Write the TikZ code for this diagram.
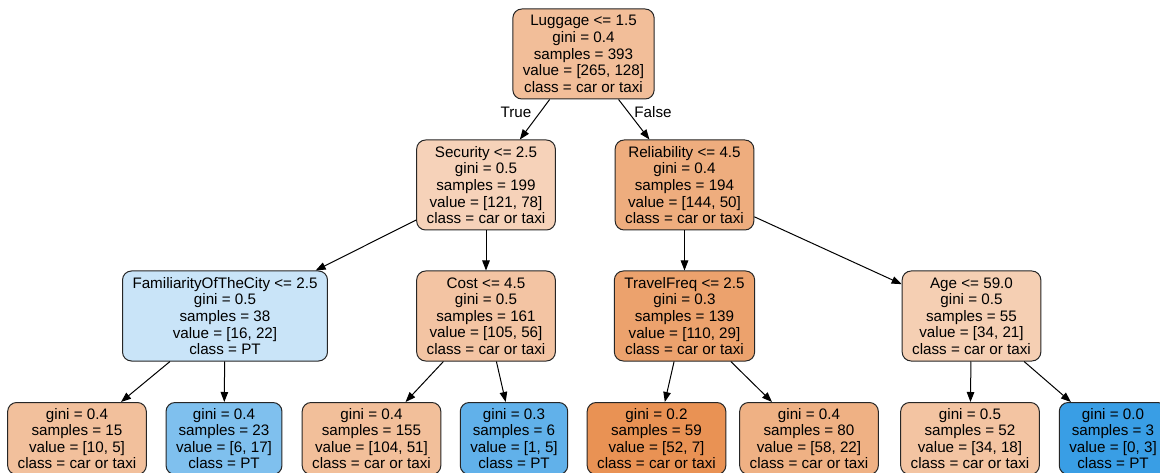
\documentclass[tikz,border=0pt]{standalone}
\usepackage{fontspec}
\setmainfont{Liberation Sans}
\usetikzlibrary{arrows.meta}
\definecolor{cRoot}{RGB}{242,190,153}
\definecolor{cSec}{RGB}{246,210,185}
\definecolor{cRel}{RGB}{238,173,126}
\definecolor{cFam}{RGB}{201,228,248}
\definecolor{cCost}{RGB}{243,196,163}
\definecolor{cTf}{RGB}{236,162,109}
\definecolor{cAge}{RGB}{245,207,179}
\definecolor{cLa}{RGB}{242,192,156}
\definecolor{cLb}{RGB}{127,192,238}
\definecolor{cLc}{RGB}{242,191,154}
\definecolor{cLd}{RGB}{97,177,234}
\definecolor{cLe}{RGB}{233,146,84}
\definecolor{cLf}{RGB}{239,177,132}
\definecolor{cLg}{RGB}{243,196,162}
\definecolor{cLh}{RGB}{57,158,229}
\begin{document}
\begin{tikzpicture}[x=1pt,y=-1pt,
  tnode/.style={draw=black!85, line width=1pt, rounded corners=9pt, align=center,
    inner xsep=10pt, inner ysep=0pt, font=\fontsize{15.2pt}{16.6pt}\selectfont},
  innernode/.style={tnode, minimum height=90pt},
  leafnode/.style={tnode, minimum height=72pt},
  edgearrow/.style={-{Triangle[length=10pt,width=7.5pt]}, line width=1pt, draw=black},
  edgelabel/.style={font=\fontsize{15.2pt}{16.6pt}\selectfont, inner sep=0pt}]
\useasboundingbox (0,0) rectangle (1160,473);
\fill[white] (0,0) rectangle (1160,473);
\clip (0,0) rectangle (1160,473);

\node[innernode, fill=cRoot] (root) at (583.5,54) {Luggage <= 1.5\\gini = 0.4\\samples = 393\\value = [265, 128]\\class = car or taxi};

\node[innernode, fill=cSec] (sec) at (486,185) {Security <= 2.5\\gini = 0.5\\samples = 199\\value = [121, 78]\\class = car or taxi};
\node[innernode, fill=cRel] (rel) at (684.5,185) {Reliability <= 4.5\\gini = 0.4\\samples = 194\\value = [144, 50]\\class = car or taxi};

\node[innernode, fill=cFam] (fam) at (225,316) {FamiliarityOfTheCity <= 2.5\\gini = 0.5\\samples = 38\\value = [16, 22]\\class = PT};
\node[innernode, fill=cCost] (cost) at (486,316) {Cost <= 4.5\\gini = 0.5\\samples = 161\\value = [105, 56]\\class = car or taxi};
\node[innernode, fill=cTf] (tf) at (684.5,316) {TravelFreq <= 2.5\\gini = 0.3\\samples = 139\\value = [110, 29]\\class = car or taxi};
\node[innernode, fill=cAge] (age) at (971.5,316) {Age <= 59.0\\gini = 0.5\\samples = 55\\value = [34, 21]\\class = car or taxi};

\node[leafnode, fill=cLa] (l1) at (77,438.5) {gini = 0.4\\samples = 15\\value = [10, 5]\\class = car or taxi};
\node[leafnode, fill=cLb] (l2) at (224,438.5) {gini = 0.4\\samples = 23\\value = [6, 17]\\class = PT};
\node[leafnode, fill=cLc] (l3) at (371.5,438.5) {gini = 0.4\\samples = 155\\value = [104, 51]\\class = car or taxi};
\node[leafnode, fill=cLd] (l4) at (514,438.5) {gini = 0.3\\samples = 6\\value = [1, 5]\\class = PT};
\node[leafnode, fill=cLe] (l5) at (656.5,438.5) {gini = 0.2\\samples = 59\\value = [52, 7]\\class = car or taxi};
\node[leafnode, fill=cLf] (l6) at (809,438.5) {gini = 0.4\\samples = 80\\value = [58, 22]\\class = car or taxi};
\node[leafnode, fill=cLg] (l7) at (970,438.5) {gini = 0.5\\samples = 52\\value = [34, 18]\\class = car or taxi};
\node[leafnode, fill=cLh] (l8) at (1113,438.5) {gini = 0.0\\samples = 3\\value = [0, 3]\\class = PT};

\draw[edgearrow] (root) -- (sec);
\draw[edgearrow] (root) -- (rel);
\draw[edgearrow] (sec) -- (fam);
\draw[edgearrow] (sec) -- (cost);
\draw[edgearrow] (rel) -- (tf);
\draw[edgearrow] (rel) -- (age);
\draw[edgearrow] (fam) -- (l1);
\draw[edgearrow] (fam) -- (l2);
\draw[edgearrow] (cost) -- (l3);
\draw[edgearrow] (cost) -- (l4);
\draw[edgearrow] (tf) -- (l5);
\draw[edgearrow] (tf) -- (l6);
\draw[edgearrow] (age) -- (l7);
\draw[edgearrow] (age) -- (l8);

\node[edgelabel] (ltrue) at (516,112) {True};
\node[edgelabel] (lfalse) at (653,112) {False};
\end{tikzpicture}
\end{document}
